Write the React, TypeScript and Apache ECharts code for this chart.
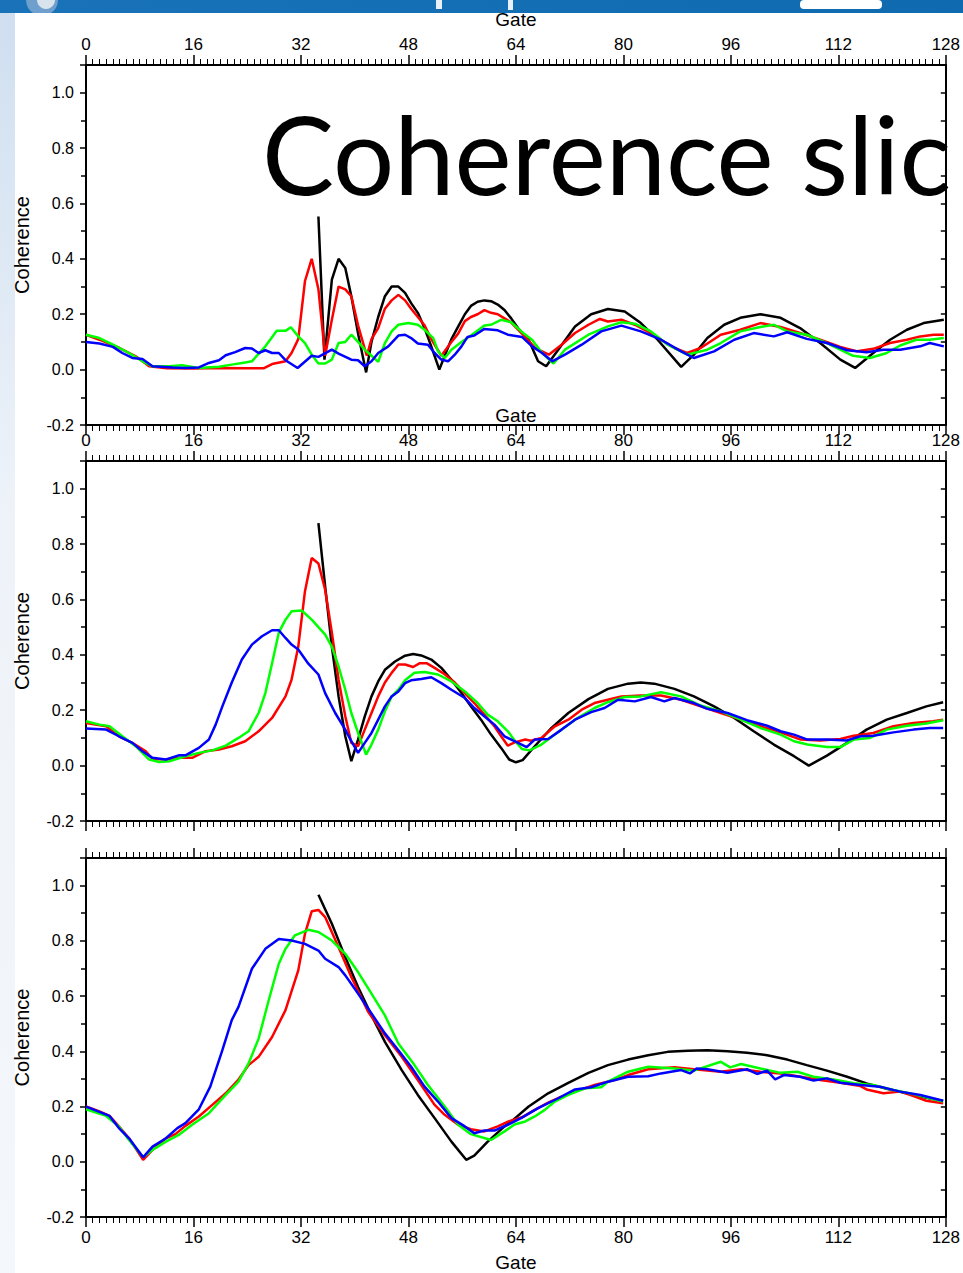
import React, { useEffect, useRef } from "react";
import * as echarts from "echarts";

// ---------- data ----------
const X_TICKS = ["0", "16", "32", "48", "64", "80", "96", "112", "128"];
const Y_TICKS = ["-0.2", "0.0", "0.2", "0.4", "0.6", "0.8", "1.0"];
const TITLE = "Coherence slic";
const X_NAME = "Gate";
const Y_NAME = "Coherence";

const black1 = [[34.6,0.553],[35.5,0.036],[36.6,0.325],[37.6,0.40],[38.6,0.367],[39.5,0.265],[40.5,0.13],[41.7,-0.01],[42.5,0.10],[43.5,0.19],[44.5,0.265],[45.5,0.30],[46.5,0.30],[47.5,0.277],[48.4,0.24],[49.4,0.205],[50.4,0.15],[51.4,0.084],[52.6,0.0],[53.4,0.05],[54.4,0.11],[55.4,0.155],[56.4,0.2],[57.3,0.23],[58.3,0.245],[59.3,0.25],[60.3,0.247],[61.3,0.235],[62.3,0.215],[63.3,0.185],[64.3,0.15],[65.9,0.108],[67.3,0.03],[68.5,0.012],[70.3,0.072],[72.8,0.156],[75.2,0.2],[77.7,0.219],[80.2,0.21],[82.6,0.168],[85.1,0.108],[88.6,0.01],[90.5,0.054],[92.5,0.114],[95,0.162],[97.4,0.187],[100.4,0.2],[103.4,0.187],[106.3,0.15],[109.3,0.096],[112.3,0.036],[114.5,0.006],[117.2,0.06],[119.7,0.108],[122.2,0.144],[124.7,0.168],[127.7,0.18]];
const red1 = [[0,0.126],[2,0.108],[5,0.078],[7.4,0.048],[9.4,0.012],[12,0.005],[16,0.004],[20,0.006],[24,0.005],[26.5,0.005],[27.7,0.02],[29.7,0.03],[30.6,0.06],[31.6,0.11],[32.6,0.32],[33.6,0.40],[34.6,0.29],[35.6,0.05],[36.6,0.18],[37.6,0.30],[38.6,0.29],[39.5,0.265],[40.5,0.16],[41.8,0.05],[42.5,0.11],[43.5,0.15],[44.5,0.22],[45.5,0.25],[46.5,0.27],[47.5,0.25],[48.4,0.22],[49.4,0.19],[50.4,0.16],[51.4,0.11],[52.9,0.05],[54.4,0.10],[55.4,0.13],[56.4,0.175],[57.3,0.19],[58.3,0.2],[59.3,0.215],[60.3,0.205],[61.3,0.2],[62.3,0.185],[63.3,0.17],[64.9,0.13],[66.9,0.078],[68.9,0.054],[70.8,0.09],[72.8,0.132],[74.8,0.162],[76.5,0.183],[77.7,0.174],[79.7,0.18],[81.7,0.162],[83.6,0.138],[85.6,0.108],[87.6,0.078],[89.5,0.06],[91.5,0.078],[94.5,0.126],[97.4,0.144],[100.4,0.168],[103.4,0.154],[106.3,0.132],[109.3,0.108],[112.3,0.082],[114.8,0.066],[117.2,0.075],[119.7,0.096],[122.2,0.108],[124.2,0.12],[126.2,0.126],[127.7,0.126]];
const green1 = [[0,0.126],[2,0.114],[4,0.09],[6.4,0.06],[8.4,0.03],[9.9,0.012],[12.4,0.012],[14.3,0.016],[16.8,0.006],[19.8,0.01],[21.7,0.018],[23.7,0.026],[24.7,0.03],[26.7,0.084],[28.4,0.14],[29.7,0.14],[30.5,0.153],[31.6,0.12],[32.6,0.096],[33.6,0.054],[34.6,0.022],[35.6,0.022],[36.6,0.036],[37.6,0.096],[38.6,0.1],[39.5,0.126],[40.5,0.1],[41.5,0.072],[42.5,0.05],[43.5,0.028],[44.5,0.096],[45.5,0.138],[46.5,0.162],[48,0.168],[49.4,0.162],[50.4,0.144],[51.7,0.114],[52.4,0.066],[53.4,0.042],[54.4,0.072],[55.9,0.1],[57.3,0.123],[59.3,0.159],[60.3,0.162],[61.8,0.18],[63.3,0.171],[64.8,0.138],[66.4,0.108],[67.9,0.06],[69.6,0.022],[71.3,0.072],[74.8,0.126],[77.7,0.156],[79.7,0.171],[81.7,0.166],[84.1,0.138],[86.6,0.09],[89.5,0.054],[92.5,0.072],[94.5,0.096],[97.4,0.138],[100.4,0.154],[102.4,0.162],[104.4,0.138],[107.3,0.126],[110.3,0.096],[114.2,0.05],[116.7,0.042],[119.2,0.06],[121.2,0.087],[123.6,0.108],[125.6,0.108],[127.7,0.114]];
const blue1 = [[0,0.1],[2,0.094],[4,0.082],[5.4,0.06],[6.9,0.042],[8.4,0.038],[9.9,0.012],[12.9,0.008],[14.8,0.006],[16.8,0.008],[18.3,0.024],[19.8,0.034],[20.8,0.052],[22.2,0.063],[23.7,0.078],[24.7,0.076],[25.7,0.06],[26.7,0.07],[27.7,0.06],[28.7,0.06],[29.7,0.034],[31.5,0.006],[33.6,0.05],[34.6,0.046],[36.6,0.072],[37.6,0.058],[39.5,0.036],[40.5,0.034],[41.5,0.012],[42.5,0.03],[43.5,0.06],[45,0.084],[46.5,0.123],[47.5,0.126],[48.4,0.114],[49.4,0.094],[50.9,0.09],[51.9,0.06],[52.9,0.036],[53.9,0.03],[54.9,0.054],[55.9,0.084],[56.8,0.118],[57.8,0.123],[59.3,0.147],[61.3,0.142],[62.8,0.126],[64.9,0.118],[66.4,0.084],[67.9,0.06],[69.4,0.03],[71.3,0.054],[73.8,0.09],[76.7,0.138],[79.7,0.159],[82.6,0.138],[85.6,0.108],[88.6,0.066],[90.5,0.042],[93.5,0.066],[96.5,0.108],[99.4,0.132],[102.4,0.12],[104.4,0.135],[107.3,0.111],[110.3,0.096],[113.3,0.07],[116.2,0.063],[118.7,0.072],[121.2,0.072],[124.2,0.084],[125.6,0.096],[127.7,0.084]];

const black2 = [[34.6,0.876],[35.6,0.647],[36.6,0.43],[37.6,0.25],[38.6,0.106],[39.5,0.016],[40.5,0.094],[41.5,0.178],[42.5,0.25],[43.5,0.304],[44.5,0.346],[46,0.376],[47.5,0.397],[48.7,0.403],[49.9,0.398],[51.4,0.383],[52.9,0.353],[54.4,0.31],[55.9,0.262],[57.3,0.214],[58.8,0.166],[60.3,0.112],[61.8,0.064],[63,0.022],[64,0.012],[65,0.02],[66.8,0.07],[69.3,0.136],[71.8,0.19],[74.8,0.24],[77.7,0.277],[80.7,0.296],[82.6,0.3],[84.6,0.296],[87.6,0.277],[90.5,0.25],[93.5,0.214],[96.5,0.172],[99.4,0.124],[102.4,0.076],[105.4,0.034],[107.6,0.0],[110.3,0.036],[113.3,0.082],[116.2,0.13],[119.2,0.166],[122.2,0.19],[125.1,0.214],[127.6,0.229]];
const red2 = [[0,0.154],[3,0.142],[4.9,0.106],[6.9,0.082],[8.9,0.052],[9.9,0.024],[11.9,0.022],[13.8,0.028],[15.8,0.028],[17.8,0.052],[19.8,0.058],[21.7,0.07],[23.7,0.088],[25.7,0.124],[27.7,0.172],[29.7,0.25],[30.6,0.31],[31.6,0.43],[32.6,0.63],[33.6,0.75],[34.6,0.73],[35.6,0.635],[36.6,0.48],[37.6,0.31],[38.6,0.178],[39.5,0.082],[40.5,0.07],[41.5,0.13],[42.5,0.19],[43.5,0.25],[44.5,0.3],[45.5,0.335],[46.5,0.365],[47.5,0.365],[48.7,0.356],[49.7,0.37],[50.7,0.37],[51.9,0.353],[53.4,0.33],[54.9,0.3],[56.4,0.262],[57.8,0.226],[59.3,0.184],[60.8,0.142],[61.8,0.106],[62.8,0.072],[63.8,0.084],[65.4,0.094],[66.2,0.09],[67.8,0.1],[69.8,0.142],[71.8,0.166],[73.8,0.202],[75.7,0.226],[77.7,0.238],[79.7,0.25],[82.6,0.253],[85.6,0.253],[88.6,0.238],[91.5,0.214],[94.5,0.19],[97.5,0.166],[100.4,0.142],[103.4,0.12],[106.4,0.094],[109.3,0.091],[112.3,0.096],[114.3,0.108],[117.2,0.118],[120.2,0.142],[123.2,0.154],[126.1,0.16],[127.6,0.166]];
const green2 = [[0,0.16],[2,0.148],[3.5,0.142],[5.4,0.106],[7.4,0.07],[9.4,0.022],[10.9,0.013],[12.4,0.016],[14.8,0.034],[16.8,0.046],[18.8,0.055],[20.8,0.072],[22.7,0.1],[24.2,0.124],[25.7,0.19],[26.7,0.262],[27.7,0.37],[28.7,0.48],[29.7,0.527],[30.6,0.557],[32.1,0.56],[33.6,0.527],[35.6,0.473],[36.6,0.43],[37.6,0.358],[38.6,0.274],[39.5,0.19],[40.5,0.118],[41.7,0.04],[42.5,0.076],[43.5,0.13],[44.5,0.196],[45.5,0.25],[46.5,0.274],[47.5,0.308],[48.9,0.335],[50.4,0.338],[52.4,0.329],[54.4,0.304],[56.4,0.268],[58.3,0.226],[59.8,0.184],[61.3,0.16],[62.8,0.124],[63.9,0.088],[64.9,0.06],[66,0.055],[67.8,0.076],[69.8,0.112],[72.8,0.166],[75.7,0.208],[77.7,0.229],[80.2,0.248],[82.6,0.25],[85.6,0.265],[88.6,0.25],[91.5,0.217],[94.5,0.196],[97.5,0.166],[100.4,0.136],[103.4,0.112],[105.4,0.088],[107.4,0.076],[110.3,0.067],[112.3,0.067],[114.3,0.094],[116.7,0.1],[119.2,0.13],[122.2,0.144],[125.1,0.152],[127.6,0.164]];
const blue2 = [[0,0.134],[3,0.13],[4.9,0.106],[6.9,0.082],[8.4,0.052],[9.9,0.028],[11.9,0.022],[13.8,0.037],[14.8,0.037],[16.8,0.064],[18.3,0.094],[19.3,0.148],[20.3,0.214],[21.7,0.3],[23.2,0.383],[24.7,0.437],[26.2,0.467],[27.7,0.489],[28.7,0.489],[29.7,0.461],[30.6,0.437],[31.6,0.419],[33.1,0.368],[34.6,0.329],[35.6,0.262],[37.1,0.19],[38.6,0.13],[39.5,0.088],[40.5,0.046],[41.5,0.082],[42.5,0.118],[43.5,0.166],[44.5,0.214],[45.5,0.25],[46.5,0.268],[47.5,0.298],[48.4,0.308],[49.9,0.313],[51.4,0.319],[52.9,0.298],[54.4,0.274],[56.4,0.244],[57.8,0.208],[59.3,0.178],[60.8,0.148],[62.3,0.106],[63.8,0.088],[65.6,0.067],[66.8,0.094],[68.8,0.096],[70.8,0.13],[72.8,0.166],[75.2,0.193],[77.2,0.208],[79.2,0.238],[81.7,0.232],[84.1,0.248],[86.1,0.232],[87.6,0.244],[90.5,0.226],[92.5,0.205],[95.5,0.19],[98.4,0.164],[101.4,0.144],[103.4,0.124],[105.4,0.112],[107.4,0.094],[110.3,0.094],[113.3,0.091],[115.3,0.106],[117.2,0.108],[120.2,0.12],[123.2,0.13],[125.6,0.136],[127.6,0.136]];

const black3 = [[34.6,0.967],[36.6,0.862],[38.6,0.741],[40.5,0.633],[42.5,0.53],[44.5,0.434],[47,0.332],[49.4,0.242],[51.9,0.158],[54.4,0.073],[56.6,0.007],[57.8,0.022],[59.8,0.073],[62.3,0.128],[63.5,0.15],[65.9,0.2],[68.8,0.248],[71.8,0.286],[74.8,0.322],[77.7,0.35],[80.7,0.37],[83.7,0.386],[86.6,0.398],[89.6,0.402],[92.5,0.404],[95.5,0.4],[98.4,0.395],[101.4,0.386],[104.4,0.37],[107.3,0.35],[110.3,0.33],[113.3,0.308],[116.2,0.284],[119.2,0.264],[122.2,0.248],[125.1,0.232],[127.6,0.22]];
const red3 = [[0,0.2],[2,0.182],[3.5,0.166],[4.9,0.128],[6.4,0.085],[8.5,0.007],[9.9,0.043],[11.9,0.085],[13.3,0.1],[14.8,0.13],[16.8,0.164],[18.8,0.206],[20.8,0.248],[22.7,0.298],[24.2,0.35],[25.7,0.38],[27.7,0.452],[29.7,0.549],[31.6,0.693],[32.6,0.826],[33.6,0.907],[34.6,0.912],[35.6,0.886],[37.6,0.777],[39.5,0.669],[42,0.543],[44.5,0.458],[47,0.38],[49.4,0.296],[51.9,0.206],[53.4,0.17],[55.4,0.134],[57.3,0.118],[59.3,0.11],[61.3,0.128],[62.9,0.146],[64.9,0.161],[66.8,0.188],[68.8,0.214],[70.8,0.236],[72.8,0.254],[75.7,0.278],[78.7,0.296],[80.7,0.314],[83.7,0.335],[87.6,0.342],[90.5,0.335],[94.5,0.326],[97.5,0.335],[100.4,0.326],[103.4,0.32],[106.4,0.308],[109.3,0.296],[112.3,0.286],[115.3,0.274],[116.2,0.262],[118.7,0.248],[121.2,0.254],[123.2,0.238],[125.1,0.221],[127.6,0.212]];
const green3 = [[0,0.19],[3,0.166],[4.9,0.128],[6.4,0.079],[8.5,0.017],[9.9,0.043],[11.9,0.073],[13.8,0.097],[15.8,0.134],[18.3,0.176],[20.8,0.242],[22.7,0.29],[24.2,0.356],[25.7,0.446],[27.2,0.585],[28.7,0.717],[29.7,0.771],[31.1,0.82],[33.1,0.84],[34.6,0.832],[36.6,0.801],[38.6,0.753],[40.5,0.687],[42.5,0.609],[44.5,0.53],[46.5,0.428],[48.9,0.35],[50.9,0.278],[53.4,0.2],[55.4,0.134],[57.3,0.1],[60.3,0.079],[62.3,0.11],[63.8,0.135],[65.4,0.146],[66.8,0.164],[68.3,0.188],[69.8,0.218],[71.8,0.242],[74.3,0.266],[76.7,0.27],[77.7,0.29],[80.7,0.326],[83.7,0.344],[87.6,0.338],[90.5,0.33],[94.5,0.362],[95.9,0.342],[97.5,0.354],[100.4,0.338],[103.4,0.322],[105.9,0.326],[108.3,0.308],[111.3,0.298],[114.3,0.284],[117.2,0.278],[120.2,0.26],[123.2,0.245],[125.6,0.23],[127.6,0.218]];
const blue3 = [[0,0.2],[3.5,0.166],[4.9,0.122],[6.4,0.085],[8.5,0.016],[9.9,0.055],[11.9,0.085],[13.6,0.122],[14.8,0.14],[16.8,0.19],[18.5,0.272],[20.3,0.404],[21.7,0.513],[22.7,0.561],[24.7,0.699],[26.7,0.771],[28.7,0.807],[30.6,0.801],[32.6,0.789],[34.6,0.765],[35.6,0.735],[37.6,0.705],[38.6,0.675],[40.5,0.609],[42.5,0.537],[44.5,0.465],[46.5,0.404],[48.4,0.344],[50.4,0.272],[52.4,0.218],[54.4,0.158],[56.4,0.128],[57.8,0.103],[59.3,0.113],[60.8,0.113],[62.8,0.134],[64.9,0.16],[67.3,0.194],[70.3,0.23],[72.8,0.262],[75.2,0.27],[77.7,0.29],[80.7,0.308],[83.7,0.31],[85.6,0.32],[88.6,0.332],[89.9,0.32],[90.9,0.338],[92.5,0.335],[95.5,0.322],[98.4,0.335],[99.9,0.318],[101.4,0.33],[102.6,0.298],[103.9,0.314],[106.3,0.308],[108.3,0.294],[110.3,0.302],[112.3,0.286],[115.3,0.278],[118.2,0.272],[121.2,0.254],[124.2,0.242],[127.6,0.221]];

const PANELS = [
  { black: black1, red: red1, green: green1, blue: blue1 },
  { black: black2, red: red2, green: green2, blue: blue2 },
  { black: black3, red: red3, green: green3, blue: blue3 },
];
const COLORS = { black: "#000000", red: "#ff0000", green: "#00ff00", blue: "#0000ff" };

// ---------- layout ----------
const W = 963;
const H = 1273;
const GRID_TOPS = [65, 461, 858];
const GRID_H = 360;
const GRID_LEFT = 86;
const GRID_W = 863;

const AXIS_FONT = "'Liberation Sans', Arial, sans-serif";

export default function App() {
  const ref = useRef<HTMLDivElement>(null);
  useEffect(() => {
    if (!ref.current) return;
    const chart = echarts.init(ref.current, undefined, { renderer: "svg" });

    const grids: any[] = [];
    const xAxes: any[] = [];
    const yAxes: any[] = [];
    const series: any[] = [];
    const xMin = Number(X_TICKS[0]);
    const xMax = Number(X_TICKS[X_TICKS.length - 1]);
    const xInt = Number(X_TICKS[1]) - Number(X_TICKS[0]);
    const yMin = Number(Y_TICKS[0]);
    const yInt = Number(Y_TICKS[1]) - Number(Y_TICKS[0]);

    const lineAxis = { show: true, onZero: false, lineStyle: { color: "#000", width: 2 } };

    PANELS.forEach((p, i) => {
      grids.push({ left: GRID_LEFT, top: GRID_TOPS[i], width: GRID_W, height: GRID_H, containLabel: false });
      const showBottomLabels = i === 2;
      const showTopLabels = i < 2;
      const xBase = (pos: string, showLab: boolean) => ({
        type: "value",
        gridIndex: i,
        position: pos,
        min: xMin,
        max: xMax,
        interval: xInt,
        axisLine: lineAxis,
        axisTick: { show: true, inside: false, length: 10, lineStyle: { color: "#000", width: 1.5 } },
        minorTick: { show: true, splitNumber: 16, length: 6, lineStyle: { color: "#000", width: 1 } },
        splitLine: { show: false },
        minorSplitLine: { show: false },
        axisLabel: {
          show: showLab,
          margin: 12,
          color: "#000",
          fontSize: 17,
          fontFamily: AXIS_FONT,
          formatter: (v: number) => {
            const idx = X_TICKS.indexOf(String(v));
            return idx >= 0 ? X_TICKS[idx] : "";
          },
        },
        name: showLab ? X_NAME : "",
        nameLocation: "middle",
        nameGap: 36,
        nameTextStyle: { color: "#000", fontSize: 19, fontFamily: AXIS_FONT },
      });
      xAxes.push(xBase("bottom", showBottomLabels));
      xAxes.push(xBase("top", showTopLabels));

      const yBase = (pos: string, left: boolean) => ({
        type: "value",
        gridIndex: i,
        position: pos,
        min: yMin,
        max: 1.1,
        interval: yInt,
        axisLine: lineAxis,
        axisTick: { show: true, inside: !left, length: left ? 6 : 5, lineStyle: { color: "#000", width: 1.5 } },
        minorTick: { show: true, splitNumber: 2, length: 5, lineStyle: { color: "#000", width: 1.5 } },
        splitLine: { show: false },
        minorSplitLine: { show: false },
        axisLabel: {
          show: left,
          margin: 12,
          color: "#000",
          fontSize: 16,
          fontFamily: AXIS_FONT,
          formatter: (v: number) => {
            const s = (Math.round(v * 10) / 10).toFixed(1);
            return Y_TICKS.indexOf(s) >= 0 ? s : "";
          },
        },
        name: left ? Y_NAME : "",
        nameLocation: "middle",
        nameRotate: 90,
        nameGap: 54,
        nameTextStyle: { color: "#000", fontSize: 20, fontFamily: AXIS_FONT },
      });
      yAxes.push(yBase("left", true));
      yAxes.push(yBase("right", false));

      (["black", "red", "green", "blue"] as const).forEach((k) => {
        series.push({
          type: "line",
          name: `${k}${i + 1}`,
          xAxisIndex: 2 * i,
          yAxisIndex: 2 * i,
          data: (p as any)[k],
          showSymbol: false,
          symbol: "none",
          lineStyle: { color: COLORS[k], width: 2.5 },
          z: 3,
        });
      });
    });

    chart.setOption({
      animation: false,
      backgroundColor: "#ffffff",
      grid: grids,
      xAxis: xAxes,
      yAxis: yAxes,
      series,
      graphic: [
        {
          type: "rect",
          z: -10,
          silent: true,
          shape: { x: 0, y: 0, width: W, height: 13 },
          style: {
            fill: new (echarts as any).graphic.LinearGradient(0, 0, 1, 0, [
              { offset: 0, color: "#1a73b8" },
              { offset: 1, color: "#0f6aaf" },
            ]),
          },
        },
        {
          type: "rect",
          z: -10,
          silent: true,
          shape: { x: 0, y: 13, width: 15, height: H - 13 },
          style: {
            fill: new (echarts as any).graphic.LinearGradient(0, 0, 0, 1, [
              { offset: 0, color: "#cfdff0" },
              { offset: 0.4, color: "#eef3f9" },
              { offset: 1, color: "#f4f7fb" },
            ]),
          },
        },
        { type: "circle", z: -9, silent: true, shape: { cx: 42, cy: 0, r: 16 }, style: { fill: "#6f9fcc" } },
        { type: "circle", z: -9, silent: true, shape: { cx: 46, cy: 0, r: 9 }, style: { fill: "#d8e3ee" } },
        { type: "rect", z: -9, silent: true, shape: { x: 436, y: 0, width: 6, height: 9 }, style: { fill: "#e8f0f8" } },
        { type: "rect", z: -9, silent: true, shape: { x: 508, y: 0, width: 5, height: 10 }, style: { fill: "#e8f0f8" } },
        { type: "rect", z: -9, silent: true, shape: { x: 800, y: 0, width: 82, height: 9, r: 4 }, style: { fill: "#ffffff" } },
        {
          type: "rect",
          z: -8,
          silent: true,
          shape: { x: 15, y: 13, width: W - 15, height: H - 13 },
          style: { fill: "#ffffff" },
        },
        {
          type: "text",
          z: 20,
          silent: true,
          x: 262,
          y: 153,
          style: {
            text: TITLE,
            fill: "#000",
            font: "108px Lato, 'Open Sans', sans-serif",
            verticalAlign: "middle",
            align: "left",
          },
        },
      ],
    });
    return () => chart.dispose();
  }, []);
  return <div ref={ref} style={{ position: "absolute", left: 0, top: 0, width: W, height: H }} />;
}
